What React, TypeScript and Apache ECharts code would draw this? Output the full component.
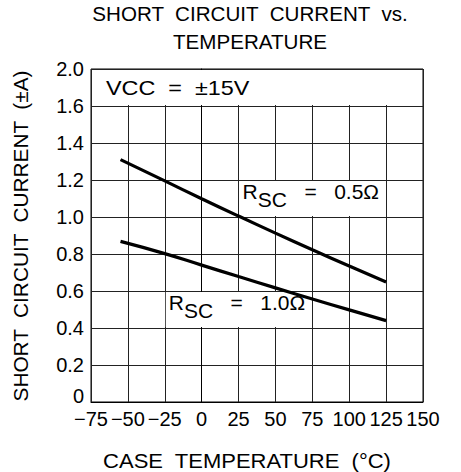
import React, { useEffect, useRef } from "react";
import * as echarts from "echarts";

// Case temperature (°C) sample points
const temps = [-55, -25, 0, 25, 50, 75, 100, 125];
// Short circuit current (±A)
const rsc05 = [1.31, 1.195, 1.099, 1.005, 0.913, 0.823, 0.735, 0.649];
const rsc10 = [0.868, 0.802, 0.74, 0.678, 0.617, 0.557, 0.498, 0.44];

const xTickLabels = ["−75", "−50", "−25", "0", "25", "50", "75", "100", "125", "150"];
// the top row of the grid spans 1.6 to 2.0 (axis break)
const yTickLabels = ["0", "0.2", "0.4", "0.6", "0.8", "1.0", "1.2", "1.4", "1.6", "2.0"];

const titleLines = ["SHORT  CIRCUIT  CURRENT  vs.", "TEMPERATURE"];
const xName = "CASE  TEMPERATURE  (°C)";
const yName = "SHORT  CIRCUIT  CURRENT  (±A)";
const vccLabel = "VCC  =  ±15V";

const FONT = "Liberation Sans";

export default function App() {
  const ref = useRef<HTMLDivElement>(null);
  useEffect(() => {
    if (!ref.current) return;
    const chart = echarts.init(ref.current, null, { renderer: "svg" });
    const xMin = -75, xMax = 150, xStep = 25;
    const yMin = 0, yMax = 1.8, yStep = 0.2;
    const option: any = {
      animation: false,
      backgroundColor: "#fff",
      grid: {
        left: 91, right: 38, top: 69, bottom: 70,
        show: true, borderColor: "#000", borderWidth: 1, backgroundColor: "transparent",
      },
      xAxis: {
        type: "value", min: xMin, max: xMax, interval: xStep,
        axisLine: { show: true, lineStyle: { color: "#000", width: 1 } },
        axisTick: { show: false },
        splitLine: { show: true, lineStyle: { color: "#222", width: 1 } },
        axisLabel: {
          color: "#000", fontFamily: FONT, fontSize: 20, margin: 9, lineHeight: 15,
          formatter: (v: number) => xTickLabels[Math.round((v - xMin) / xStep)] ?? "",
        },
      },
      yAxis: {
        type: "value", min: yMin, max: yMax, interval: yStep,
        axisLine: { show: true, lineStyle: { color: "#000", width: 1 } },
        axisTick: { show: false },
        splitLine: { show: true, lineStyle: { color: "#222", width: 1 } },
        axisLabel: {
          color: "#000", fontFamily: FONT, fontSize: 20, margin: 7, lineHeight: 15,
          formatter: (v: number) => {
            const i = Math.round((v - yMin) / yStep);
            const s = yTickLabels[i] ?? "";
            return i === 0 ? `{z|${s}}` : s;
          },
          rich: { z: { fontFamily: FONT, fontSize: 20, color: "#000", lineHeight: 15, padding: [0, 0, 12, 0] } },
        },
      },
      series: [
        {
          type: "line", name: "RSC = 0.5Ω", z: 5,
          data: temps.map((t, i) => [t, rsc05[i]]),
          showSymbol: false, smooth: 0.5,
          lineStyle: { color: "#000", width: 3.2 },
        },
        {
          type: "line", name: "RSC = 1.0Ω", z: 5,
          data: temps.map((t, i) => [t, rsc10[i]]),
          showSymbol: false, smooth: 0.5,
          lineStyle: { color: "#000", width: 3.2 },
        },
      ],
    };
    chart.setOption(option);

    const px = (x: number, y: number) => chart.convertToPixel({ gridIndex: 0 }, [x, y]) as number[];
    const box = (x0: number, y0: number, x1: number, y1: number) => {
      const a = px(x0, y1);
      const b = px(x1, y0);
      return {
        type: "rect", z: 3,
        shape: { x: a[0] + 1, y: a[1] + 1, width: b[0] - a[0] - 2, height: b[1] - a[1] - 2 },
        style: { fill: "#fff" },
      };
    };
    const rich = {
      r: { fontFamily: FONT, fontSize: 20, color: "#000", verticalAlign: "top", lineHeight: 22 },
      s: { fontFamily: FONT, fontSize: 20, color: "#000", verticalAlign: "middle", lineHeight: 36 },
    };
    const rscLabel = (x0: number, y1: number, val: string) => {
      const p = px(x0, y1);
      return {
        type: "text", z: 6, x: p[0] + 4, y: p[1] + 1.5, scaleX: 1.05,
        style: {
          text: `{r|R}{s|SC}{r|   =   ${val}}`,
          rich, verticalAlign: "top", align: "left",
        },
      };
    };
    const topLeft = px(xMin, yMax);
    const graphic: any[] = [
      box(xMin, 1.6, xMax, yMax),
      box(25, 1.0, 125, 1.2),
      box(-25, 0.4, 75, 0.6),
      {
        type: "text", z: 6, x: topLeft[0] + 15, y: topLeft[1] + 19, scaleX: 1.17,
        style: { text: vccLabel, fontFamily: FONT, fontSize: 20, fill: "#000", verticalAlign: "middle", align: "left" },
      },
      rscLabel(25, 1.2, "0.5Ω"),
      rscLabel(-25, 0.6, "1.0Ω"),
      {
        type: "text", x: 250, y: 0, scaleX: 1.03,
        style: {
          text: titleLines.join("\n"), fontFamily: FONT, fontSize: 20, lineHeight: 28,
          fill: "#000", align: "center", verticalAlign: "top",
        },
      },
      {
        type: "text", x: 247, y: 461, scaleX: 1.1,
        style: { text: xName, fontFamily: FONT, fontSize: 20, fill: "#000", align: "center", verticalAlign: "middle" },
      },
      {
        type: "text", x: 21, y: 236, rotation: Math.PI / 2, scaleX: 1.04,
        style: { text: yName, fontFamily: FONT, fontSize: 20, fill: "#000", align: "center", verticalAlign: "middle" },
      },
    ];
    chart.setOption({ graphic });
    return () => chart.dispose();
  }, []);
  return <div ref={ref} style={{ width: 461, height: 472, position: "absolute", left: 0, top: 0 }} />;
}
